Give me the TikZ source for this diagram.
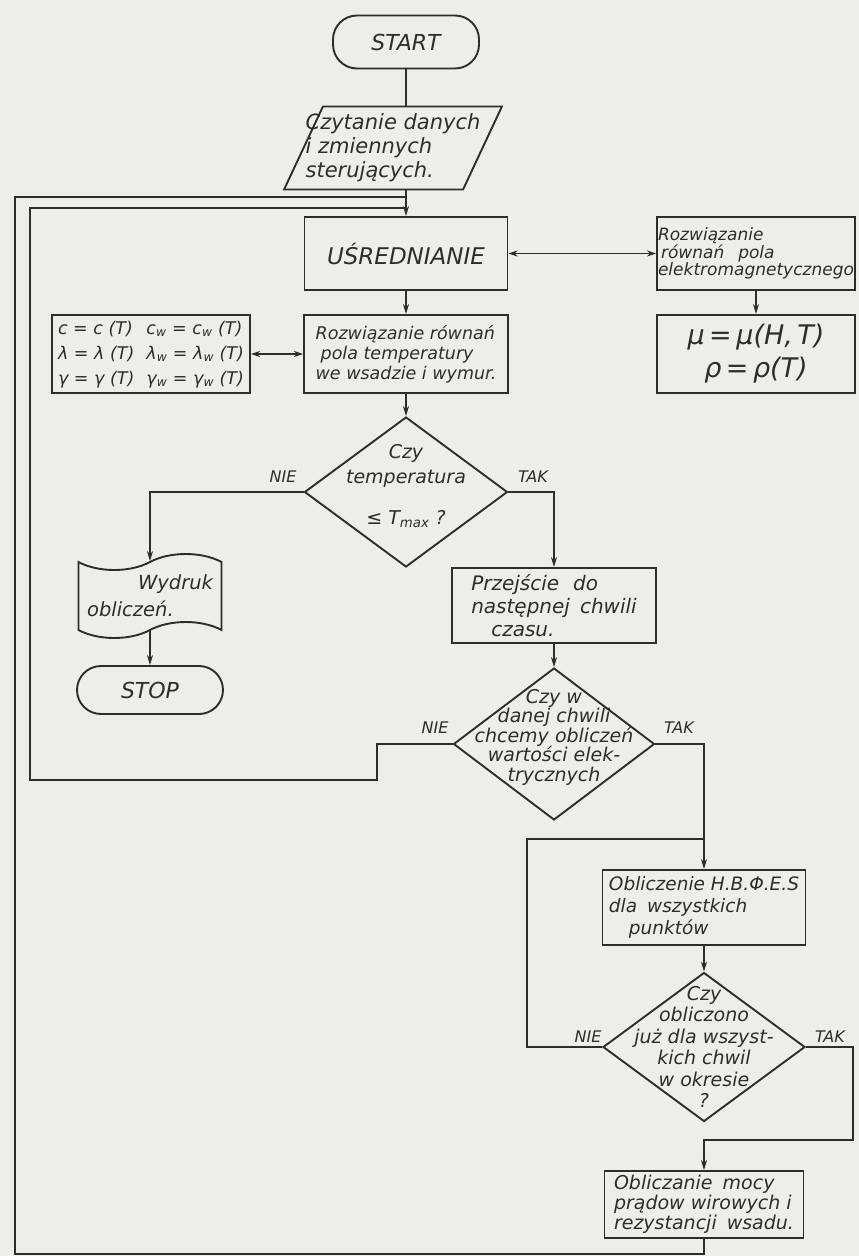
\documentclass[tikz,border=0pt]{standalone}
\usepackage{fontspec}
\setmainfont{DejaVu Sans}
\usetikzlibrary{arrows.meta, calc, positioning, shapes.geometric, shapes.symbols}
\definecolor{ink}{RGB}{45, 45, 45}
\definecolor{paper}{RGB}{238, 238, 233}

\begin{document}
\begin{tikzpicture}[x=1pt, y=-1pt, line width=1.9pt, color=ink,
    every node/.style={font=\itshape},
    box/.style={rectangle, draw, inner sep=1pt, align=left},
    term/.style={rectangle, draw, rounded corners=24pt, minimum width=146pt,
      font=\fontsize{22}{22}\selectfont\itshape},
    io/.style={trapezium, draw, trapezium left angle=74.5, trapezium right angle=105.5,
      trapezium stretches=true, minimum width=218pt, minimum height=83pt},
    decision/.style={diamond, draw, inner sep=0pt, minimum width=203pt, minimum height=150pt},
    dtext/.style={align=center},
    printout/.style={tape, draw, tape bend height=16pt, minimum width=143pt,
      minimum height=84pt, inner sep=0pt, align=left},
    lbl/.style={font=\fontsize{16}{16}\selectfont\itshape},
    arrow/.style={-{Stealth[length=10pt, width=6pt]}},
    twoway/.style={{Stealth[length=9pt, width=6pt]}-{Stealth[length=9pt, width=6pt]}}
  ]
  \fill[paper] (0,0) rectangle (859,1256);
  \useasboundingbox (0,0) rectangle (859,1256);

  % main column
  \node[term, minimum height=53pt] (start) at (406,42) {START};
  \node[io, label={[align=left, font=\fontsize{21}{24}\selectfont\itshape]center:{Czytanie danych\\i zmiennych\\sterujących.}}] (read) at (393,148) {};
  \node[box, minimum width=203pt, minimum height=73pt, align=center,
    font=\fontsize{23}{23}\selectfont\itshape] (avg) at (406,253.5) {UŚREDNIANIE};
  \node[box, minimum width=204pt, minimum height=78pt,
    font=\fontsize{17.5}{20}\selectfont\itshape] (temp) at (406,354)
    {Rozwiązanie równań\\\hspace*{5pt}pola temperatury\\we wsadzie i wymur.};
  \node[decision, label={[dtext, yshift=6pt, font=\fontsize{19}{25}\selectfont\itshape]center:{Czy\\temperatura\\[16pt]≤ T\textsubscript{max} ?}}] (d1) at (406,492) {};

  % side boxes
  \node[box, minimum width=197pt, minimum height=73pt,
    font=\fontsize{17}{17.5}\selectfont\itshape] (emf) at (756,253.5)
    {Rozwiązanie\\\hspace*{3pt}równań\hspace{14pt}pola\\elektromagnetycznego};
  \node[box, minimum width=198pt, minimum height=78pt, align=center,
    font=\fontsize{27}{33}\selectfont\itshape] (mu) at (756,354) {μ\,=\,μ(H,\,T)\\ρ\,=\,ρ(T)};
  \node[box, minimum width=198pt, minimum height=78pt,
    font=\fontsize{17.5}{25}\selectfont\itshape] (props) at (151,354) {%
    \begin{tabular}{@{}l@{\hspace{12pt}}l@{}}
      c = c (T) & c\textsubscript{w} = c\textsubscript{w} (T)\\
      λ = λ (T) & λ\textsubscript{w} = λ\textsubscript{w} (T)\\
      γ = γ (T) & γ\textsubscript{w} = γ\textsubscript{w} (T)
    \end{tabular}};

  % NIE branch
  \node[printout, font=\fontsize{19.5}{27}\selectfont\itshape] (print) at (150,596)
    {\hspace*{51pt}Wydruk\\obliczeń.};
  \node[term, minimum height=48pt] (stop) at (150,690) {STOP};

  % TAK branch
  \node[box, minimum width=204pt, minimum height=75pt,
    font=\fontsize{20}{23}\selectfont\itshape] (next) at (554,605.5)
    {Przejście\hspace{14pt}do\\następnej\hspace{10pt}chwili\\\hspace*{20pt}czasu.};
  \node[decision, minimum width=201pt, minimum height=152pt, label={[dtext, yshift=7pt, font=\fontsize{19}{19.5}\selectfont\itshape]center:{Czy w\\danej chwili\\chcemy obliczeń\\wartości elek-\\trycznych}}] (d2) at (554,744) {};
  \node[box, minimum width=203pt, minimum height=75pt,
    font=\fontsize{18.5}{22}\selectfont\itshape] (field) at (704,907.5)
    {Obliczenie H.B.Φ.E.S\\dla\hspace{10pt}wszystkich\\\hspace*{20pt}punktów};
  \node[decision, minimum width=202pt, minimum height=149pt, label={[dtext, font=\fontsize{19}{21.4}\selectfont\itshape]center:{Czy\\obliczono\\już dla wszyst-\\kich chwil\\w okresie\\?}}] (d3) at (704,1047) {};
  \node[box, minimum width=199pt, minimum height=67pt,
    font=\fontsize{19}{20}\selectfont\itshape] (power) at (704,1204.5)
    {Obliczanie\hspace{10pt}mocy\\prądow wirowych i\\rezystancji\hspace{10pt}wsadu.};

  % answers
  \node[lbl] (no1) at (283,477) {NIE};
  \node[lbl] (yes1) at (533,477) {TAK};
  \node[lbl] (no2) at (435,728) {NIE};
  \node[lbl] (yes2) at (679,728) {TAK};
  \node[lbl] (no3) at (588,1037) {NIE};
  \node[lbl] (yes3) at (830,1037) {TAK};

  % loop corners
  \coordinate (jout) at (406,197);
  \coordinate (jin) at (406,208);
  \coordinate (outer) at (15,1254);
  \coordinate (inner) at (30,780);
  \coordinate (step) at (377,744);
  \coordinate (back) at (527,839);
  \coordinate (done) at (853,1140);

  \draw (start) -- (start |- read.north);
  \draw[arrow] (avg |- read.south) -- (avg.north);
  \draw (power.south) |- (outer) |- (jout);
  \draw (d2.west) -- (step) |- (inner) |- (jin);
  \draw[twoway] (avg) -- (emf);
  \draw[twoway] (props) -- (temp);
  \draw[arrow] (emf) -- (mu);
  \draw[arrow] (avg) -- (temp);
  \draw[arrow] (temp) -- (d1);
  \draw[arrow] (d1.west) -| (print.north);
  \draw[arrow] (d1.east) -| (next.north);
  \draw[arrow] (print) -- (stop);
  \draw[arrow] (next) -- (d2);
  \draw[arrow] (d2.east) -| (field.north);
  \draw[arrow] (field) -- (d3);
  \draw (d3.west) -| (back) -- (back -| field.north);
  \draw[arrow] (d3.east) -| (done) -| (power.north);
\end{tikzpicture}
\end{document}
